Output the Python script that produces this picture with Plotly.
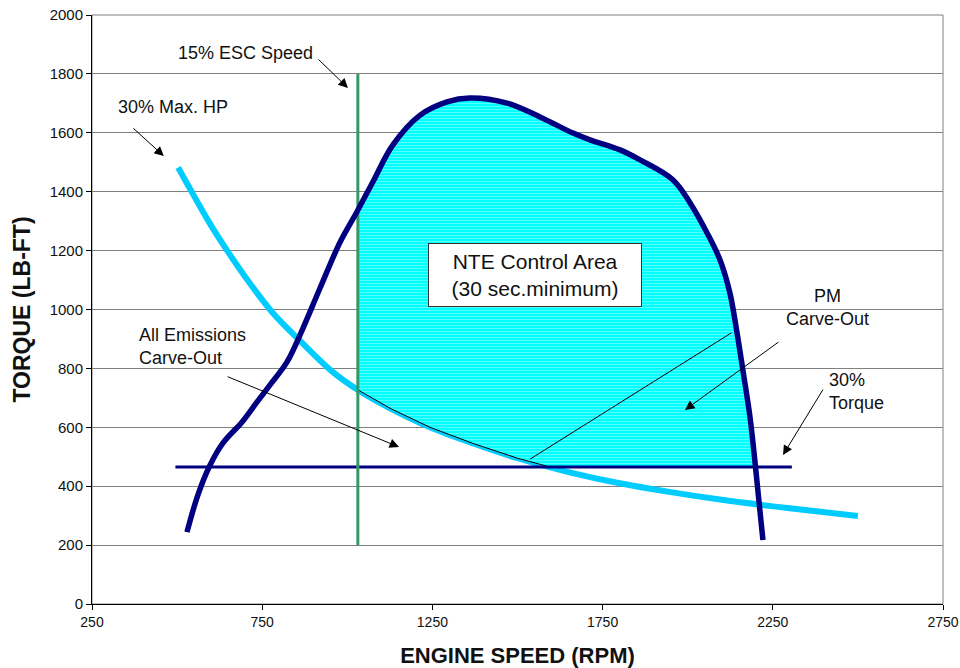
import plotly.graph_objects as go

# ---- data ----
torque_rpm = [529, 561, 597, 635, 691, 735, 773, 823, 870, 920, 979, 1028, 1075, 1134, 1214,
              1293, 1360, 1469, 1566, 1663, 1713, 1801, 1860, 1957, 2007, 2057, 2095, 2124,
              2145, 2162, 2183, 2198, 2206, 2221]
torque_val = [244, 370, 472, 547, 618, 686, 744, 822, 937, 1073, 1229, 1331, 1433, 1559, 1660,
              1705, 1718, 1701, 1654, 1599, 1576, 1542, 1508, 1440, 1362, 1260, 1168, 1056,
              920, 795, 635, 479, 387, 217]

hp_rpm = [503, 550, 600, 650, 710, 780, 860, 955, 1031, 1130, 1243, 1370, 1500, 1650, 1800,
          1950, 2100, 2300, 2500]
hp_torque = [1482, 1385, 1285, 1195, 1095, 990, 895, 790, 727, 662, 600, 545, 495, 448, 410,
             380, 354, 325, 299]

esc_rpm = [1031, 1031]
esc_torque = [200, 1800]

t30_rpm = [495, 2306]
t30_torque = [465, 465]

# NTE control area boundary
nte_rpm = [1031, 1031, 1075, 1134, 1214, 1293, 1360, 1469, 1566, 1663, 1713, 1801, 1860, 1957,
           2007, 2057, 2095, 2124, 2145, 2162, 2183, 2196, 1596, 1500, 1370, 1243, 1130, 1031]
nte_torque = [727, 1337, 1433, 1559, 1660, 1705, 1718, 1701, 1654, 1599, 1576, 1542, 1508, 1440,
              1362, 1260, 1168, 1056, 920, 795, 635, 465, 465, 495, 545, 600, 662, 727]

carve_rpm = [1031, 1031, 1596]
carve_torque = [727, 465, 465]

x_ticks = [250, 750, 1250, 1750, 2250, 2750]
y_ticks = list(range(0, 2001, 200))

FONT = "Liberation Sans, Arial, sans-serif"
NAVY = "#000080"
CYAN = "#00CCFF"
GREEN = "#339966"

fig = go.Figure()

fig.add_trace(go.Scatter(x=hp_rpm, y=hp_torque, mode="lines",
                         line=dict(color=CYAN, width=6, shape="spline"), hoverinfo="skip"))
fig.add_trace(go.Scatter(x=nte_rpm, y=nte_torque, mode="lines", fill="toself",
                         fillcolor="#00FFFF",
                         fillpattern=dict(shape="-", fgcolor="white", bgcolor="#00FFFF",
                                          size=3, solidity=0.22),
                         line=dict(color="black", width=1), hoverinfo="skip"))
fig.add_trace(go.Scatter(x=carve_rpm, y=carve_torque, mode="lines",
                         line=dict(color="black", width=1), hoverinfo="skip"))
fig.add_trace(go.Scatter(x=t30_rpm, y=t30_torque, mode="lines",
                         line=dict(color=NAVY, width=3), hoverinfo="skip"))
fig.add_trace(go.Scatter(x=esc_rpm, y=esc_torque, mode="lines",
                         line=dict(color=GREEN, width=3), hoverinfo="skip"))
fig.add_trace(go.Scatter(x=torque_rpm, y=torque_val, mode="lines",
                         line=dict(color=NAVY, width=5.5, shape="spline"), hoverinfo="skip"))

annots = []
def label(text, x, y, size=18, align="center"):
    annots.append(dict(text=text, x=x, y=y, xref="x", yref="y", showarrow=False,
                       font=dict(family=FONT, size=size, color="#111"), align=align))

def arrow(x0, y0, x1, y1, head=2):
    annots.append(dict(text="", x=x1, y=y1, ax=x0, ay=y0, xref="x", yref="y",
                       axref="x", ayref="y", showarrow=True, arrowhead=head,
                       arrowsize=1.9, arrowwidth=1, arrowcolor="black", standoff=0,
                       startstandoff=0))

label("15% ESC Speed", 700, 1871)
arrow(911, 1854, 1002, 1752)
label("30% Max. HP", 488, 1688)
arrow(367, 1620, 461, 1521)
label("All Emissions<br>Carve-Out", 545, 876, align="left")
arrow(644, 774, 1152, 533)
label("PM<br>Carve-Out", 2412, 1008)
arrow(2133, 924, 1537, 492, head=0)
arrow(2271, 893, 1992, 659)
label("30%<br>Torque", 2497, 723, align="left")
arrow(2400, 733, 2280, 506)
annots.append(dict(text="NTE Control Area<br>(30 sec.minimum)", x=1551, y=1117,
                   xref="x", yref="y", showarrow=False, width=212, height=62,
                   bgcolor="white", bordercolor="#333", borderwidth=1, borderpad=0,
                   font=dict(family=FONT, size=21, color="#111")))

fig.update_layout(
    width=960, height=668,
    margin=dict(l=92, r=17, t=15, b=64, autoexpand=False),
    paper_bgcolor="white", plot_bgcolor="white",
    showlegend=False,
    font=dict(family=FONT, color="#111"),
    annotations=annots,
    shapes=[dict(type="rect", xref="paper", yref="paper", x0=0, y0=0, x1=1, y1=1,
                 line=dict(color="#808080", width=1), layer="below")],
    xaxis=dict(range=[250, 2750], tickvals=x_ticks, ticks="outside", ticklen=5,
               tickcolor="black", showline=True, linecolor="black", linewidth=1,
               showgrid=False, zeroline=False, tickfont=dict(size=14, family=FONT),
               automargin=False,
               title=dict(text="<b>ENGINE SPEED (RPM)</b>", font=dict(size=22, family=FONT),
                          standoff=18)),
    yaxis=dict(range=[0, 2000], tickvals=y_ticks, ticks="outside", ticklen=5,
               tickcolor="black", showline=True, linecolor="black", linewidth=1,
               showgrid=True, gridcolor="#808080", gridwidth=1, zeroline=False,
               tickfont=dict(size=15, family=FONT), automargin=False,
               title=dict(text="<b>TORQUE (LB-FT)</b>", font=dict(size=23, family=FONT),
                          standoff=12)),
)

fig.write_html("out.html", config={"displayModeBar": False},
               post_script="document.body.style.margin='0';document.body.style.padding='0';")
